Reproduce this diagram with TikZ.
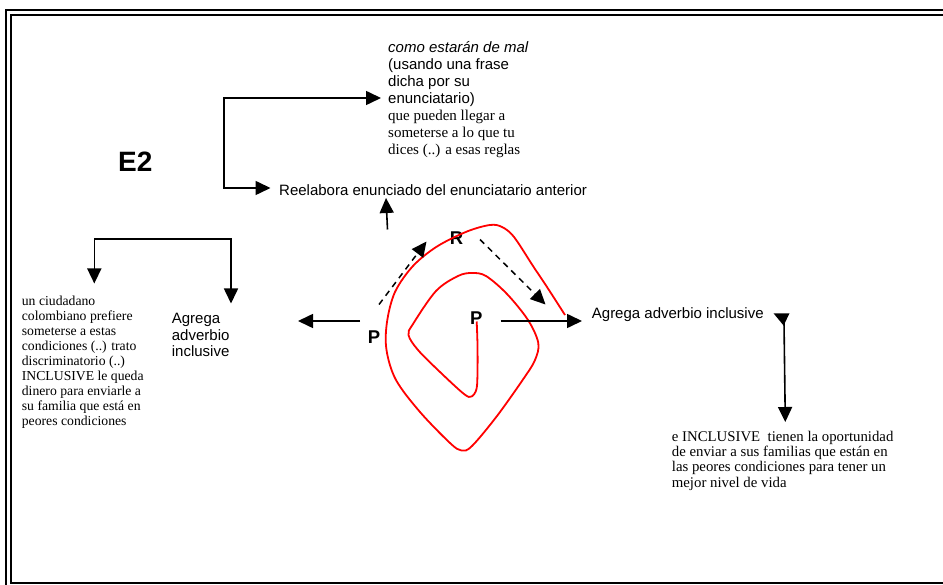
\documentclass[tikz,border=0pt]{standalone}
\usepackage{fontspec}
\setmainfont{Liberation Serif}
\setsansfont{Liberation Sans}
\usetikzlibrary{arrows.meta}
\begin{document}
\begin{tikzpicture}[x=1pt,y=-1pt,
  frameline/.style={line width=2pt,black},
  sanstxt/.style={inner sep=0pt,align=left,font=\sffamily\fontsize{15}{17}\selectfont},
  serifsmall/.style={inner sep=0pt,align=left,font=\rmfamily\fontsize{13.7}{15}\selectfont},
  bigletter/.style={inner sep=0pt,font=\sffamily\bfseries\fontsize{18.5}{20}\selectfont},
  arr/.style={line width=1.6pt,-{Triangle[length=15pt,width=14pt]}},
  dblarr/.style={line width=1.6pt,{Triangle[length=15pt,width=14pt]}-{Triangle[length=15pt,width=14pt]}},
  dasharr/.style={line width=1.5pt,dash pattern=on 6pt off 5pt,-{Triangle[length=15pt,width=14pt]}},
  spiral/.style={red,line width=1.8pt}]
\useasboundingbox (0,0) rectangle (943,585);
% frame
\draw[frameline] (5.7,590) -- (5.7,10) -- (950,10);
\draw[frameline] (950,15) -- (11,15) -- (11,582.5) -- (950,582.5);

% texts (base anchor = baseline of the last line)
\node[inner sep=0pt,anchor=base west,font=\sffamily\bfseries\fontsize{28}{30}\selectfont] (e2) at (118,171.5) {E2};
\node[sanstxt,anchor=base west] (topt) at (388,155) {{\itshape como estarán de mal}\\(usando una frase\\dicha por su\\enunciatario)\\{\rmfamily\fontsize{15}{17}\selectfont que pueden llegar a}\\{\rmfamily\fontsize{15}{17}\selectfont someterse a lo que tu}\\{\rmfamily\fontsize{15}{17}\selectfont dices (..) a esas reglas}};
\node[sanstxt,anchor=base west] (reel) at (279,196) {Reelabora enunciado del enunciatario anterior};
\node[sanstxt,anchor=base west,font=\sffamily\fontsize{15}{16.5}\selectfont] (agl) at (171.7,357) {Agrega\\adverbio\\inclusive};
\node[serifsmall,anchor=base west] (leftt) at (21.7,425) {un ciudadano\\colombiano prefiere\\someterse a estas\\condiciones (..) trato\\discriminatorio (..)\\INCLUSIVE le queda\\dinero para enviarle a\\su familia que está en\\peores condiciones};
\node[sanstxt,anchor=base west] (agr) at (591.7,319) {Agrega adverbio inclusive};
\node[inner sep=0pt,align=left,font=\rmfamily\fontsize{14.8}{15.4}\selectfont,anchor=base west] (rightt) at (671.7,487.2) {e INCLUSIVE\ \ tienen la oportunidad\\de enviar a sus familias que están en\\las peores condiciones para tener un\\mejor nivel de vida};

\node[bigletter,anchor=base] (pl) at (374,344) {P};
\node[bigletter,anchor=base] (r) at (456.5,244.3) {R};
\node[bigletter,anchor=base] (pi) at (476.3,325) {P};

% red spiral
\draw[spiral] plot[smooth,tension=0.55] coordinates {
 (476.7,321.5) (477.5,345) (477.5,372) (476.5,389) (471.5,396.5) (464,394)
 (440,372) (418,350) (408.5,335) (413,324) (436,291) (458,276) (472,273)
 (486,276) (507,294) (528,320) (538.3,343) (535,360) (524,378) (497,416)
 (472,446) (461.5,450.5) (450,443) (420,412) (396,380) (386.5,350)
 (387,322) (395,292) (413,266) (437,246.5) (467,231.5) (490,225)
 (502,227) (514,237) (533,266) (547,287) (565,315)};

% connectors
\coordinate (brTop) at (224,98);
\coordinate (brBot) at (224,188);
\coordinate (tipTop) at (381,98);
\coordinate (tipReel) at (270.5,188);
\draw[dblarr] (tipTop) -- (brTop) -- (brBot) -- (tipReel);

\coordinate (upStart) at (387.5,229.5);
\coordinate (upTip) at (386,198);
\draw[arr] (upStart) -- (upTip);

\coordinate (lbL) at (94.3,239.3);
\coordinate (lbR) at (231,239.3);
\coordinate (lbLtip) at (94.3,283.5);
\coordinate (lbRtip) at (231,303.5);
\draw[dblarr] (lbLtip) -- (lbL) -- (lbR) -- (lbRtip);

\coordinate (laStart) at (360,321);
\coordinate (laTip) at (298,321);
\draw[arr] (laStart) -- (laTip);

\coordinate (d1s) at (379,304.5);
\coordinate (d1t) at (426.5,241.5);
\draw[dasharr] (d1s) -- (d1t);
\coordinate (d2s) at (480,239.5);
\coordinate (d2t) at (545.5,304.5);
\draw[dasharr] (d2s) -- (d2t);

\coordinate (raStart) at (500.7,321);
\coordinate (raTip) at (582,321);
\draw[arr] (raStart) -- (raTip);

\coordinate (vTop) at (784,322);
\coordinate (vTip) at (785.3,422);
\fill (773.5,313.3) -- (789.5,313.3) -- (783.6,325.5) -- cycle;
\draw[arr] (vTop) -- (vTip);
\end{tikzpicture}
\end{document}
